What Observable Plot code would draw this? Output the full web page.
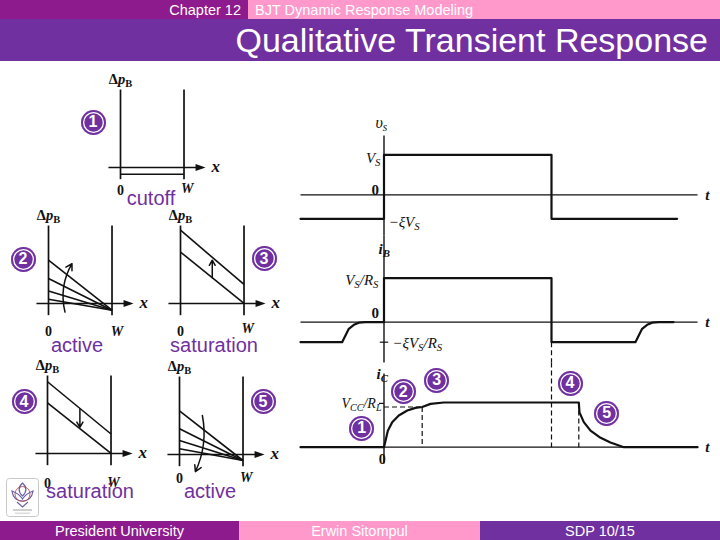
<!DOCTYPE html>
<html><head><meta charset="utf-8">
<script src="https://cdn.jsdelivr.net/npm/d3@7"></script>
<script src="https://cdn.jsdelivr.net/npm/@observablehq/plot@0.6"></script>
<style>
body{margin:0;background:#fff;}
#slide{position:relative;width:720px;height:540px;overflow:hidden;background:#fff;font-family:"Liberation Sans",Arial,sans-serif;}
.bar{position:absolute;color:#fff;display:flex;align-items:center;box-sizing:border-box;white-space:nowrap;}
.num{position:absolute;width:25px;height:25px;margin:-12.5px 0 0 -12.5px;border-radius:50%;background:#7030A0;box-shadow:inset 0 0 0 2px #7030A0, inset 0 0 0 3.3px #fff;color:#fff;font:bold 16px "Liberation Sans",Arial,sans-serif;display:flex;align-items:center;justify-content:center;}
.lab{position:absolute;color:#7030A0;font-size:20px;transform:translate(-50%,-50%);white-space:nowrap;line-height:1;}
</style></head>
<body>
<div id="slide">
  <div class="bar" style="left:0;top:0;width:248px;height:19px;background:#8E1B8E;justify-content:flex-end;padding-right:7px;font-size:14.5px;">Chapter 12</div>
  <div class="bar" style="left:248px;top:0;width:472px;height:19px;background:#FF99CC;padding-left:7px;font-size:14.5px;">BJT Dynamic Response Modeling</div>
  <div class="bar" style="left:0;top:19px;width:720px;height:42px;background:#7030A0;justify-content:flex-end;padding-right:12px;font-size:34px;">Qualitative Transient Response</div>
  <div class="bar" style="left:0;top:521px;width:239px;height:19px;background:#8E1B8E;justify-content:center;font-size:14.5px;">President University</div>
  <div class="bar" style="left:239px;top:521px;width:241px;height:19px;background:#FF99CC;justify-content:center;font-size:14.5px;">Erwin Sitompul</div>
  <div class="bar" style="left:480px;top:521px;width:240px;height:19px;background:#7030A0;justify-content:center;font-size:14.5px;">SDP 10/15</div>
  <svg style="position:absolute;left:6px;top:478px" width="33" height="39" viewBox="0 0 33 39">
    <rect x="0.5" y="0.5" width="32" height="38" rx="3" fill="#fff" stroke="#c8c8c8"/>
    <path d="M16.5 5 C12 9 12 14 16.5 18 C21 14 21 9 16.5 5 Z" fill="none" stroke="#6a5fa8" stroke-width="1.2"/>
    <path d="M6 13 C7 20 11 23 16.5 23 C22 23 26 20 27 13 C22 15 19 17 16.5 21 C14 17 11 15 6 13 Z" fill="none" stroke="#6a5fa8" stroke-width="1.2"/>
    <circle cx="16.5" cy="16" r="7.5" fill="none" stroke="#b04040" stroke-width="0.8"/>
    <path d="M11 24 L16.5 29 L22 24" fill="none" stroke="#6a5fa8" stroke-width="1.1"/>
    <rect x="7" y="31" width="19" height="2" fill="#cfcfcf"/>
    <rect x="9" y="34.5" width="15" height="1.6" fill="#dcdcdc"/>
  </svg>
</div>
<script>
// ================= DATA =================
// Waveforms (t in units where the input pulse lasts 0..10)
const vsT = [-4.985, 0, 0, 10, 10, 17.5];
const vsV = [-0.6, -0.6, 1, 1, -0.6, -0.6];
const ibT = [-4.985, -2.50, -2.30, -2.10, -1.80, -1.50, -1.10, 0, 0, 10, 10, 15.01, 15.21, 15.41, 15.71, 16.01, 16.41, 17.28];
const ibV = [-0.4545, -0.4545, -0.30, -0.15, -0.06, -0.01, 0, 0, 1, 1, -0.4545, -0.4545, -0.30, -0.15, -0.06, -0.01, 0, 0];
const icT = [-4.985, 0, 0.23, 0.49, 0.88, 1.39, 1.88, 2.28, 2.78, 3.57, 11.63, 11.67, 11.93, 12.33, 12.93, 13.52, 14.32, 18.72];
const icV = [0, 0, 0.37, 0.56, 0.71, 0.82, 0.88, 0.9, 0.97, 1, 1, 0.78, 0.56, 0.37, 0.21, 0.105, 0, 0];
const icMarkT = [2.28, 10, 11.63];          // dashed instants
const vsLevels = [1, 0, -0.6];
const vsTickLabels = ["V_{S}", "0", "−ξV_{S}"];
const ibLevels = [1, 0, -0.4545];
const ibTickLabels = ["V_{S}/R_{S}", "0", "−ξV_{S}/R_{S}"];
const icLevels = [1, 0, 0.9];
const icTickLabels = ["V_{CC}/R_{L}", "0"];
const axisNames = ["υ_{s}", "i_{B}", "i_{C}"];
// Excess minority-carrier profiles Δp_B(x), x in units of W
const cutoffLeft = [-0.086], cutoffRight = [-0.086];
const turnOnLeft = [0.555, 0.32, 0.16, 0.055], turnOnRight = -0.086;
const satUpLeft = [0.66, 0.94], satUpRight = [0, 0.244];
const satDownLeft = [0.92, 0.65], satDownRight = [0.25, 0];
const turnOffLeft = [0.56, 0.33, 0.18, 0.073], turnOffRight = -0.077;
const stepNumbers = ["1", "2", "3", "4", "5"];
const regionNames = ["cutoff", "active", "saturation", "saturation", "active"];

// ================= HELPERS =================
const NS = "http://www.w3.org/2000/svg";
const slide = document.getElementById("slide");
const serif = "Liberation Serif, Times New Roman, serif";
function place(el, left, top) { el.style.position = "absolute"; el.style.left = left + "px"; el.style.top = top + "px"; slide.appendChild(el); }
function rich(svg) {
  for (const t of svg.querySelectorAll("text")) {
    const hosts = t.querySelector("tspan") ? [...t.querySelectorAll("tspan")] : [t];
    for (const el of hosts) {
      const s = el.textContent;
      if (!/[_*]/.test(s)) continue;
      const parts = []; let buf = "", it = false;
      for (let i = 0; i < s.length; i++) {
        const c = s[i];
        if (c === "*") { if (buf) parts.push({t: buf, it, sub: false}); buf = ""; it = !it; }
        else if (c === "_" && s[i + 1] === "{") {
          if (buf) parts.push({t: buf, it, sub: false}); buf = "";
          const j = s.indexOf("}", i); parts.push({t: s.slice(i + 2, j), it, sub: true}); i = j;
        } else buf += c;
      }
      if (buf) parts.push({t: buf, it, sub: false});
      el.textContent = "";
      let down = false;
      for (const p of parts) {
        const ts = document.createElementNS(NS, "tspan");
        ts.textContent = p.t;
        if (p.it) ts.setAttribute("font-style", "italic");
        if (p.sub) { ts.setAttribute("font-size", "72%"); if (!down) ts.setAttribute("dy", "0.3em"); down = true; }
        else if (down) { ts.setAttribute("dy", "-0.216em"); down = false; }
        el.appendChild(ts);
      }
    }
  }
  return svg;
}
const rightTri = { draw(ctx) { ctx.moveTo(6, 0); ctx.lineTo(-4, -3.4); ctx.lineTo(-4, 3.4); ctx.closePath(); } };
const seg = (x1, y1, x2, y2) => ({x1, y1, x2, y2});
const lab = (x, y, s) => ({x, y, s});
const links = (rows, o = {}) => Plot.link(rows, {x1: "x1", y1: "y1", x2: "x2", y2: "y2", stroke: "#111", strokeWidth: 1.3, ...o});
const txt = (rows, o = {}) => Plot.text(rows, {x: "x", y: "y", text: "s", fill: "#111", fontFamily: serif, fontSize: 15, fontStyle: "italic", lineAnchor: "middle", ...o});

// ================= WAVEFORMS =================
const tDomain = [-4.985, 20.09];
const tEnd = 18.72;
function panel(top, height, yDomain, marks) {
  const svg = Plot.plot({
    width: 420, height, margin: 0,
    x: {domain: tDomain, axis: null}, y: {domain: yDomain, axis: null},
    style: {background: "transparent", overflow: "visible"},
    marks
  });
  place(rich(svg), 300, top);
}
const zip = (T, V) => T.map((t, i) => ({t, v: V[i]}));

panel(110, 125, [-1.0175, 2.1075], [
  links([seg(0, 1.48, 0, -1.0175)], {strokeWidth: 1.4}),
  links([seg(tDomain[0], 0, tEnd, 0)], {strokeWidth: 1.2}),
  Plot.line(zip(vsT, vsV), {x: "t", y: "v", stroke: "#111", strokeWidth: 2.2}),
  txt([lab(-0.51, 1.81, axisNames[0])], {textAnchor: "start", fontSize: 16}),
  txt([lab(-0.21, vsLevels[0], vsTickLabels[0])], {textAnchor: "end", dy: 3}),
  txt([lab(-0.3, vsLevels[1], vsTickLabels[1])], {textAnchor: "end", dy: -5, fontStyle: "normal", fontWeight: "bold"}),
  txt([lab(0.27, vsLevels[2], vsTickLabels[2])], {textAnchor: "start", dy: 3}),
  txt([lab(19.31, 0, "t")], {textAnchor: "middle", fontWeight: "bold"})
]);

panel(235, 127, [-0.916, 1.9705], [
  links([seg(0, 1.9705, 0, -0.916)], {strokeWidth: 1.4}),
  links([seg(tDomain[0], 0, tEnd, 0)], {strokeWidth: 1.2}),
  links([seg(-0.25, ibLevels[2], 0.25, ibLevels[2])], {strokeWidth: 1.2}),
  links([seg(10, ibLevels[2], 10, -0.916)], {strokeWidth: 1.2, strokeDasharray: "5,3"}),
  Plot.line(zip(ibT, ibV), {x: "t", y: "v", stroke: "#111", strokeWidth: 2.2}),
  txt([lab(-0.33, 1.67, axisNames[1])], {textAnchor: "start", fontWeight: "bold"}),
  txt([lab(-0.33, ibLevels[0], ibTickLabels[0])], {textAnchor: "end", dy: 2}),
  txt([lab(-0.3, ibLevels[1], ibTickLabels[1])], {textAnchor: "end", dy: -9, fontStyle: "normal", fontWeight: "bold"}),
  txt([lab(0.5, ibLevels[2], ibTickLabels[2])], {textAnchor: "start", dy: 1}),
  txt([lab(19.31, 0, "t")], {textAnchor: "middle", fontWeight: "bold"})
]);

panel(362, 108, [-0.521, 1.8949], [
  links([seg(0, 1.65, 0, -0.365)], {strokeWidth: 1.4}),
  links([seg(tDomain[0], 0, tEnd, 0)], {strokeWidth: 1.2}),
  links([seg(-0.3, 0.98, 0, 0.98)], {strokeWidth: 1.2}),
  links([seg(0, icLevels[2], icMarkT[0], icLevels[2]), seg(icMarkT[0], icLevels[2], icMarkT[0], 0),
         seg(icMarkT[1], 1.8949, icMarkT[1], 0), seg(icMarkT[2], 1, icMarkT[2], 0)],
        {strokeWidth: 1.2, strokeDasharray: "5,3"}),
  Plot.line(zip(icT, icV), {x: "t", y: "v", stroke: "#111", strokeWidth: 2.2}),
  txt([lab(-0.45, 1.63, axisNames[2])], {textAnchor: "start", fontWeight: "bold"}),
  txt([lab(-0.15, icLevels[0], icTickLabels[0])], {textAnchor: "end", dy: 1, fontSize: 14}),
  txt([lab(-0.11, icLevels[1], icTickLabels[1])], {textAnchor: "middle", dy: 12, fontStyle: "normal", fontWeight: "bold", fontSize: 14}),
  txt([lab(19.31, 0, "t")], {textAnchor: "middle", fontWeight: "bold"})
]);

// ================= CARRIER PROFILE DIAGRAMS =================
const dxDom = [-0.315, 1.732], dyDom = [-0.449, 1.385];
function diagram(leftX, axisY, lab0, labW, marks) {
  const svg = Plot.plot({
    width: 130, height: 143, margin: 0,
    x: {domain: dxDom, axis: null}, y: {domain: dyDom, axis: null},
    style: {background: "transparent", overflow: "visible"},
    marks: [
      links([seg(0, -0.15, 0, 1), seg(1, -0.15, 1, 1)], {strokeWidth: 1.7}),
      links([seg(-0.19, 0, 1.245, 0)], {strokeWidth: 1.5}),
      Plot.dot([{x: 1.245, y: 0}], {x: "x", y: "y", symbol: rightTri, fill: "#111", stroke: "none", r: 4}),
      ...marks,
      txt([lab(0, 1.13, "Δ*p*_{B}")], {textAnchor: "middle", fontStyle: "normal", fontWeight: "bold", fontSize: 14.5}),
      txt([lab(0, lab0, "0")], {textAnchor: "middle", fontStyle: "normal", fontWeight: "bold", fontSize: 14}),
      txt([lab(labW[0], labW[1], "W")], {textAnchor: "middle", fontWeight: "bold", fontSize: 14}),
      txt([lab(1.5, 0, "x")], {textAnchor: "middle", fontWeight: "bold", fontSize: 17, dy: -1})
    ]
  });
  place(rich(svg), leftX - 20, axisY - 108);
}
const fan = (L, R) => L.map((a) => seg(0, a, 1, R));
const pairs = (L, R) => L.map((a, i) => seg(0, a, 1, R[i]));

diagram(120, 167.3, -0.29, [1.05, -0.265], [
  links(pairs(cutoffLeft, cutoffRight), {strokeWidth: 1.6})
]);
diagram(48.3, 303.3, -0.36, [1.08, -0.36], [
  links(fan(turnOnLeft, turnOnRight), {strokeWidth: 1.6}),
  Plot.arrow([seg(0.26, -0.11, 0.37, 0.51)], {x1: "x1", y1: "y1", x2: "x2", y2: "y2", bend: 22, stroke: "#111", strokeWidth: 1.5, headLength: 7})
]);
diagram(180, 303.3, -0.36, [1.06, -0.32], [
  links(pairs(satUpLeft, satUpRight), {strokeWidth: 1.6}),
  Plot.arrow([seg(0.5, 0.33, 0.5, 0.555)], {x1: "x1", y1: "y1", x2: "x2", y2: "y2", stroke: "#111", strokeWidth: 1.5, headLength: 7})
]);
diagram(46.7, 452.7, -0.39, [1.04, -0.37], [
  links(pairs(satDownLeft, satDownRight), {strokeWidth: 1.6}),
  Plot.arrow([seg(0.51, 0.57, 0.51, 0.335)], {x1: "x1", y1: "y1", x2: "x2", y2: "y2", stroke: "#111", strokeWidth: 1.5, headLength: 7})
]);
diagram(179, 454, -0.31, [1.05, -0.29], [
  links(fan(turnOffLeft, turnOffRight), {strokeWidth: 1.6}),
  Plot.arrow([seg(0.36, 0.5, 0.25, -0.22)], {x1: "x1", y1: "y1", x2: "x2", y2: "y2", bend: 18, stroke: "#111", strokeWidth: 1.5, headLength: 7})
]);

// ================= ANNOTATIONS =================
const regionPos = [[151, 198], [77, 345], [214, 345], [90, 491], [210, 491]];
regionNames.forEach((name, i) => {
  const d = document.createElement("div"); d.className = "lab"; d.textContent = name;
  d.style.left = regionPos[i][0] + "px"; d.style.top = regionPos[i][1] + "px"; slide.appendChild(d);
});
const diagNumPos = [[93, 122], [23, 259], [264, 258.5], [24, 401.5], [263, 401.5]];
const waveNumPos = [[361.7, 428.3], [403.3, 391.7], [436.7, 380], [570, 383.3], [606.7, 413.3]];
[diagNumPos, waveNumPos].forEach(P => stepNumbers.forEach((n, i) => {
  const d = document.createElement("div"); d.className = "num"; d.textContent = n;
  d.style.left = P[i][0] + "px"; d.style.top = P[i][1] + "px"; slide.appendChild(d);
}));
</script>
</body></html>
